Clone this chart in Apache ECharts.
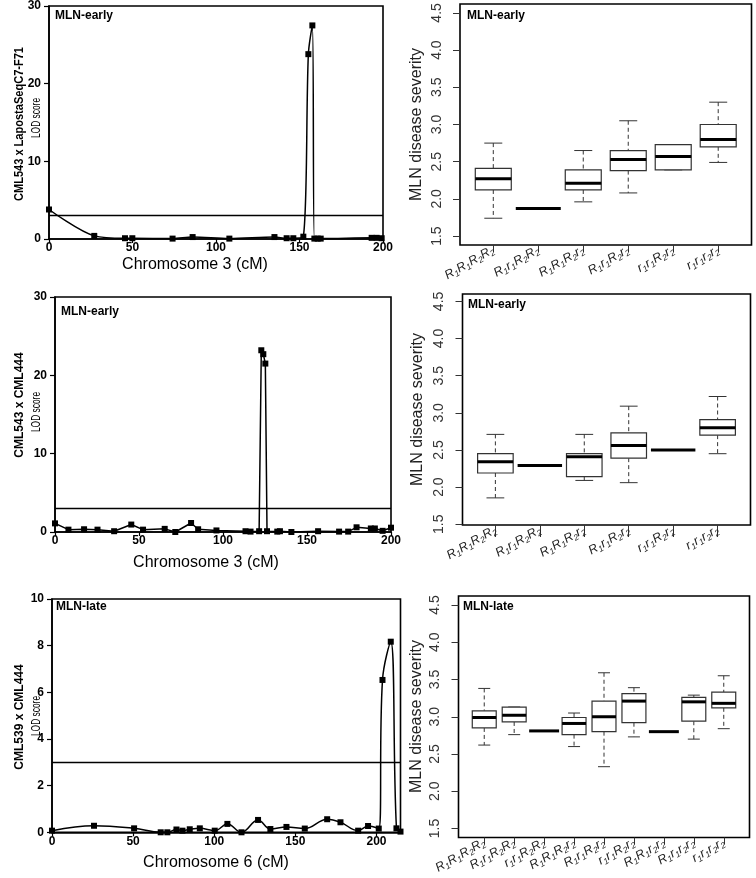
<!DOCTYPE html>
<html><head><meta charset="utf-8">
<script src="https://cdn.jsdelivr.net/npm/echarts@6/dist/echarts.min.js"></script>
<style>html,body{margin:0;padding:0;background:#fff}#c{width:756px;height:878px}</style>
</head><body><div id="c"></div>
<script>
// ================= DATA =================
const threshold = 3;
const lodXTicks = [0, 50, 100, 150, 200];

// Panel 1: CML543 x LapostaSeqC7-F71, chromosome 3
const lod1Pos = [0, 27.1, 45.5, 49.9, 74, 86, 108, 135, 142.3, 146.3, 152.3, 155.3, 157.7, 158.9, 160.9, 162.7, 193.2, 196.2, 199.2];
const lod1Lod = [3.8, 0.4, 0.1, 0.1, 0.05, 0.25, 0.05, 0.25, 0.1, 0.1, 0.3, 23.8, 27.5, 0.05, 0.05, 0.05, 0.15, 0.15, 0.1];
const lod1YTicks = [0, 10, 20, 30];

// Panel 2: CML543 x CML444, chromosome 3
const lod2Pos = [0, 8, 17.3, 25.3, 35.2, 45.4, 52.4, 65.3, 71.6, 81, 85.2, 96.1, 113.4, 116.4, 121.5, 122.8, 124, 125.2, 126.2, 132.3, 133.9, 140.7, 156.6, 169.1, 174.5, 179.5, 188, 190.4, 195, 200];
const lod2Lod = [1.1, 0.3, 0.35, 0.3, 0.1, 0.95, 0.3, 0.4, 0.0, 1.15, 0.35, 0.2, 0.1, 0.05, 0.1, 23.2, 22.7, 21.5, 0.1, 0.05, 0.1, 0.0, 0.1, 0.05, 0.05, 0.6, 0.45, 0.45, 0.15, 0.55];
const lod2YTicks = [0, 10, 20, 30];

// Panel 3: CML539 x CML444, chromosome 6
const lod3Pos = [0, 25.9, 50.6, 67, 71.1, 76.7, 80.4, 84.9, 91.1, 100.3, 108.1, 116.8, 127, 134.6, 144.5, 155.8, 169.6, 177.8, 188.7, 194.8, 201.4, 203.7, 208.8, 212.3, 214.8];
const lod3Lod = [0.07, 0.28, 0.17, 0.0, 0.0, 0.12, 0.07, 0.13, 0.17, 0.07, 0.36, 0.0, 0.53, 0.14, 0.23, 0.16, 0.56, 0.43, 0.07, 0.27, 0.16, 6.53, 8.17, 0.17, 0.03];
const lod3YTicks = [0, 2, 4, 6, 8, 10];

// Box plots
const boxYTicks = [1.5, 2.0, 2.5, 3.0, 3.5, 4.0, 4.5];

const box1Cats = ['R1R1R2R2', 'R1r1R2R2', 'R1R1R2r2', 'R1r1R2r2', 'r1r1R2r2', 'r1r1r2r2'];
const box1Low  = [1.74, 1.87, 1.96, 2.08, 2.39, 2.49];
const box1Q1   = [2.12, 1.87, 2.12, 2.38, 2.39, 2.70];
const box1Med  = [2.27, 1.87, 2.21, 2.53, 2.57, 2.80];
const box1Q3   = [2.41, 1.87, 2.39, 2.65, 2.73, 3.00];
const box1High = [2.75, 1.87, 2.65, 3.05, 2.73, 3.30];
const box1OutCat = [5, 5];
const box1OutVal = [3.10, 3.13];

const box2Cats = ['R1R1R2R2', 'R1r1R2R2', 'R1R1R2r2', 'R1r1R2r2', 'r1r1R2r2', 'r1r1r2r2'];
const box2Low  = [1.855, 2.29, 2.09, 2.06, 2.50, 2.45];
const box2Q1   = [2.19, 2.29, 2.14, 2.39, 2.50, 2.70];
const box2Med  = [2.34, 2.29, 2.41, 2.56, 2.50, 2.80];
const box2Q3   = [2.45, 2.29, 2.45, 2.73, 2.50, 2.91];
const box2High = [2.71, 2.29, 2.71, 3.09, 2.50, 3.22];
const box2OutCat = [];
const box2OutVal = [];

const box3Cats = ['R1R1R2R2', 'R1r1R2R2', 'r1r1R2R2', 'R1R1R2r2', 'R1r1R2r2', 'r1r1R2r2', 'R1R1r2r2', 'R1r1r2r2', 'r1r1r2r2'];
const box3Low  = [2.62, 2.76, 2.81, 2.60, 2.33, 2.73, 2.80, 2.70, 2.84];
const box3Q1   = [2.85, 2.93, 2.81, 2.76, 2.80, 2.92, 2.80, 2.94, 3.12];
const box3Med  = [2.99, 3.02, 2.81, 2.91, 3.00, 3.21, 2.80, 3.20, 3.18];
const box3Q3   = [3.08, 3.13, 2.81, 2.99, 3.21, 3.31, 2.80, 3.26, 3.33];
const box3High = [3.38, 3.13, 2.81, 3.05, 3.59, 3.39, 2.80, 3.29, 3.55];
const box3OutCat = [1, 2, 9, 9, 9];
const box3OutVal = [3.47, 3.50, 3.66, 3.68, 2.73];

// ================= BUILD =================
const FONT = '"Liberation Sans", Arial, sans-serif';
const zip = (a, b) => a.map((v, i) => [v, b[i]]);

function lodAxes(gi, xMax, yMax, yTicks) {
  const x = {
    type: 'value', gridIndex: gi, min: 0, max: xMax,
    axisLine: { show: true, lineStyle: { color: '#000', width: 1.5 } },
    axisTick: { show: true, length: 4, customValues: lodXTicks, lineStyle: { color: '#000', width: 1.2 } },
    axisLabel: { customValues: lodXTicks, margin: 3, fontFamily: FONT, fontWeight: 'bold', fontSize: 12, color: '#000' },
    splitLine: { show: false }
  };
  const y = {
    type: 'value', gridIndex: gi, min: 0, max: yMax,
    axisLine: { show: true, lineStyle: { color: '#000', width: 1.5 } },
    axisTick: { show: true, length: 5, customValues: yTicks, lineStyle: { color: '#000', width: 1.2 } },
    axisLabel: { customValues: yTicks, margin: 8, fontFamily: FONT, fontWeight: 'bold', fontSize: 12, color: '#000' },
    splitLine: { show: false }
  };
  return [x, y];
}

function lodSeries(gi, pos, lod, smooth) {
  return {
    type: 'line', xAxisIndex: gi, yAxisIndex: gi,
    data: zip(pos, lod), smooth: smooth,
    symbol: 'rect', symbolSize: 6, showAllSymbol: true,
    itemStyle: { color: '#000' },
    lineStyle: { color: '#000', width: 1.5 },
    markLine: {
      silent: true, symbol: 'none', label: { show: false },
      lineStyle: { color: '#000', width: 1.3, type: 'solid' },
      data: [{ yAxis: threshold }]
    },
    z: 3
  };
}

function labelRich(code) {
  // 'R1r1R2r2' -> letter + subscript digit
  let out = '';
  for (let i = 0; i < code.length; i += 2) out += '{i|' + code[i] + '}{s|' + code[i + 1] + '}';
  return out;
}

function boxAxes(gi, cats, yMin, yMax, xTickLen) {
  const n = cats.length;
  const pad = n * 0.04;
  const idx = cats.map((c, i) => i + 1);
  const x = {
    type: 'value', gridIndex: gi, min: 0.5 - pad, max: n + 0.5 + pad,
    axisLine: { show: false },
    axisTick: { show: true, length: xTickLen, customValues: idx, lineStyle: { color: '#333', width: 1 } },
    axisLabel: {
      customValues: idx, rotate: 30, margin: 4, fontFamily: FONT,
      formatter: v => labelRich(cats[Math.round(v) - 1]),
      rich: {
        i: { fontStyle: 'italic', fontSize: 12.5, fontFamily: FONT, color: '#222' },
        s: { fontStyle: 'italic', fontSize: 8.5, fontFamily: FONT, color: '#222', padding: [7, 0, 0, 0] }
      }
    },
    splitLine: { show: false }
  };
  const y = {
    type: 'value', gridIndex: gi, min: yMin, max: yMax,
    axisLine: { show: false },
    axisTick: { show: true, length: 7, customValues: boxYTicks, lineStyle: { color: '#333', width: 1 } },
    axisLabel: { customValues: boxYTicks, rotate: 90, margin: 16, fontFamily: FONT, fontSize: 14, color: '#333',
      formatter: v => v.toFixed(1) },
    splitLine: { show: false }
  };
  return [x, y];
}

function boxRender(params, api) {
  const x = api.value(0);
  const lo = api.value(1), q1 = api.value(2), md = api.value(3), q3 = api.value(4), hi = api.value(5);
  const unit = api.size([1, 0])[0];
  const flat = q1 === q3;
  const hw = unit * (flat ? 0.5 : 0.4);
  const sw = unit * 0.2;
  const pLo = api.coord([x, lo]), pQ1 = api.coord([x, q1]), pMd = api.coord([x, md]),
        pQ3 = api.coord([x, q3]), pHi = api.coord([x, hi]);
  const cx = pMd[0];
  const dash = { stroke: '#333', lineWidth: 1, lineDash: [4, 3], fill: null };
  const solid = { stroke: '#333', lineWidth: 1, fill: null };
  const ch = [];
  if (!flat) {
    ch.push({ type: 'line', shape: { x1: cx, y1: pHi[1], x2: cx, y2: pQ3[1] }, style: dash });
    ch.push({ type: 'line', shape: { x1: cx, y1: pQ1[1], x2: cx, y2: pLo[1] }, style: dash });
    ch.push({ type: 'line', shape: { x1: cx - sw, y1: pHi[1], x2: cx + sw, y2: pHi[1] }, style: solid });
    ch.push({ type: 'line', shape: { x1: cx - sw, y1: pLo[1], x2: cx + sw, y2: pLo[1] }, style: solid });
    ch.push({ type: 'rect', shape: { x: cx - hw, y: pQ3[1], width: 2 * hw, height: pQ1[1] - pQ3[1] },
      style: { stroke: '#333', lineWidth: 1.2, fill: '#fff' } });
  }
  ch.push({ type: 'line', shape: { x1: cx - hw, y1: pMd[1], x2: cx + hw, y2: pMd[1] },
    style: { stroke: '#000', lineWidth: 3 } });
  return { type: 'group', children: ch };
}

function boxSeries(gi, low, q1, med, q3, high) {
  return {
    type: 'custom', xAxisIndex: gi, yAxisIndex: gi,
    data: low.map((v, i) => [i + 1, v, q1[i], med[i], q3[i], high[i]]),
    encode: { x: 0, y: [1, 2, 3, 4, 5] },
    renderItem: boxRender, z: 3
  };
}

function outSeries(gi, cats, vals) {
  return {
    type: 'scatter', xAxisIndex: gi, yAxisIndex: gi, data: zip(cats, vals),
    symbol: 'emptyCircle', symbolSize: 7,
    itemStyle: { color: '#fff', borderColor: '#222', borderWidth: 1 }, z: 4
  };
}

const frame = { show: true, borderColor: '#000', borderWidth: 1.6, backgroundColor: 'transparent' };
const grids = [
  Object.assign({ left: 49, top: 5, width: 334, height: 234 }, frame),
  Object.assign({ left: 55, top: 297, width: 336, height: 235 }, frame),
  Object.assign({ left: 52, top: 599, width: 348.5, height: 233.3 }, frame),
  Object.assign({ left: 460, top: 4, width: 291.5, height: 241 }, frame),
  Object.assign({ left: 462.5, top: 294, width: 288, height: 231 }, frame),
  Object.assign({ left: 458.5, top: 596, width: 291, height: 241.5 }, frame)
];

const a1 = lodAxes(0, 200, 30, lod1YTicks);
const a2 = lodAxes(1, 200, 30, lod2YTicks);
const a3 = lodAxes(2, 214.8, 10, lod3YTicks);
const a4 = boxAxes(3, box1Cats, 1.38, 4.62, 7);
const a5 = boxAxes(4, box2Cats, 1.49, 4.6, 12);
const a6 = boxAxes(5, box3Cats, 1.38, 4.62, 7);

function txt(text, x, y, opts) {
  return Object.assign({
    type: 'text', x: x, y: y, silent: true,
    style: Object.assign({ text: text, font: '12px ' + FONT, fill: '#000', align: 'center', verticalAlign: 'middle' }, opts.style || {})
  }, opts.el || {});
}
const ROT = { rotation: Math.PI / 2 };
const ROTS = { rotation: Math.PI / 2, scaleX: 0.7 };
const graphics = [
  txt('CML543 x LapostaSeqC7-F71', 20, 124, { el: { rotation: Math.PI / 2, scaleX: 0.92 }, style: { font: 'bold 12px ' + FONT } }),
  txt('LOD score', 37, 118, { el: ROTS, style: {} }),
  txt('CML543 x CML444', 20, 405, { el: ROT, style: { font: 'bold 12px ' + FONT } }),
  txt('LOD score', 37, 412, { el: ROTS, style: {} }),
  txt('CML539 x CML444', 20, 717, { el: ROT, style: { font: 'bold 12px ' + FONT } }),
  txt('LOD score', 37, 716, { el: ROTS, style: {} }),
  txt('Chromosome 3 (cM)', 195, 265, { style: { font: '16px ' + FONT } }),
  txt('Chromosome 3 (cM)', 206, 563, { style: { font: '16px ' + FONT } }),
  txt('Chromosome 6 (cM)', 216, 863, { style: { font: '16px ' + FONT } }),
  txt('MLN-early', 55, 16, { style: { font: 'bold 12px ' + FONT, align: 'left' } }),
  txt('MLN-early', 61, 312, { style: { font: 'bold 12px ' + FONT, align: 'left' } }),
  txt('MLN-late', 56, 607, { style: { font: 'bold 12px ' + FONT, align: 'left' } }),
  txt('MLN-early', 467, 16, { style: { font: 'bold 12px ' + FONT, align: 'left' } }),
  txt('MLN-early', 468, 305, { style: { font: 'bold 12px ' + FONT, align: 'left' } }),
  txt('MLN-late', 463, 607, { style: { font: 'bold 12px ' + FONT, align: 'left' } }),
  txt('MLN disease severity', 417, 124.5, { el: ROT, style: { font: '16px ' + FONT, fill: '#222' } }),
  txt('MLN disease severity', 418, 409.5, { el: ROT, style: { font: '16px ' + FONT, fill: '#222' } }),
  txt('MLN disease severity', 417, 716.5, { el: ROT, style: { font: '16px ' + FONT, fill: '#222' } })
];

const option = {
  animation: false,
  backgroundColor: '#fff',
  grid: grids,
  xAxis: [a1[0], a2[0], a3[0], a4[0], a5[0], a6[0]],
  yAxis: [a1[1], a2[1], a3[1], a4[1], a5[1], a6[1]],
  series: [
    lodSeries(0, lod1Pos, lod1Lod, 0.3),
    lodSeries(1, lod2Pos, lod2Lod, false),
    lodSeries(2, lod3Pos, lod3Lod, 0.4),
    boxSeries(3, box1Low, box1Q1, box1Med, box1Q3, box1High),
    outSeries(3, box1OutCat, box1OutVal),
    boxSeries(4, box2Low, box2Q1, box2Med, box2Q3, box2High),
    outSeries(4, box2OutCat, box2OutVal),
    boxSeries(5, box3Low, box3Q1, box3Med, box3Q3, box3High),
    outSeries(5, box3OutCat, box3OutVal)
  ],
  graphic: graphics
};
const chart = echarts.init(document.getElementById('c'), null, { renderer: 'canvas' });
chart.setOption(option);
</script>
</body></html>
